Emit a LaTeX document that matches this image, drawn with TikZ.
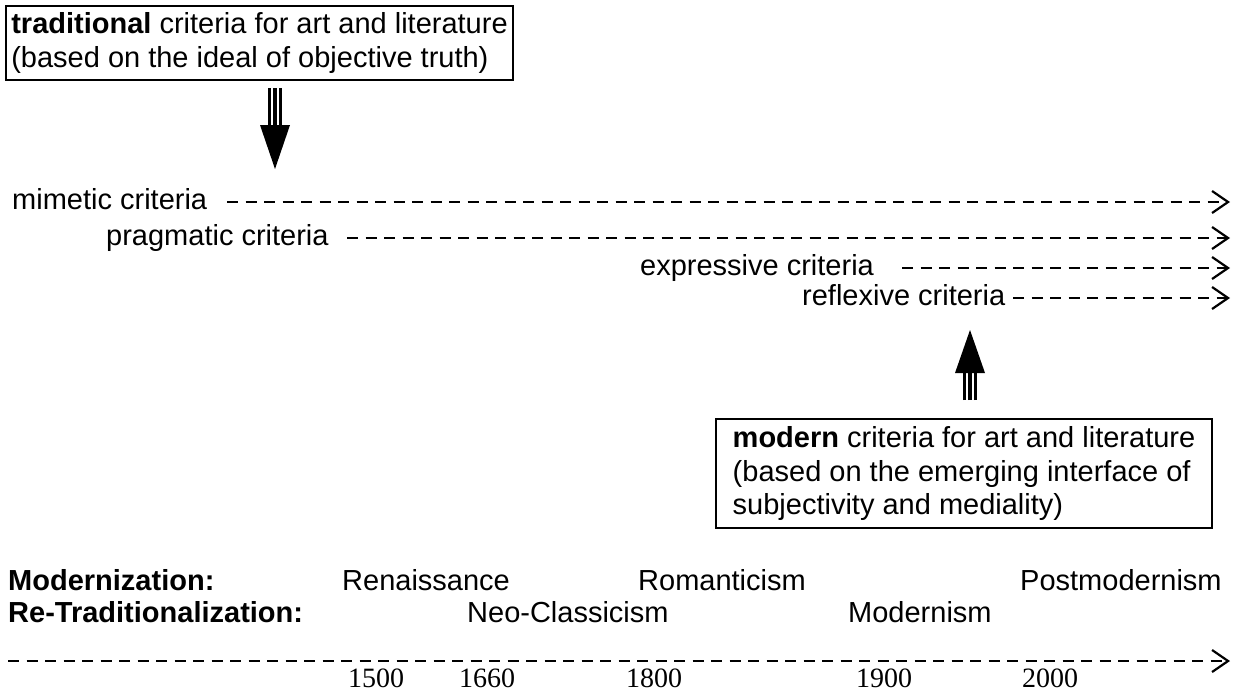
\documentclass[tikz,border=0pt]{standalone}
\usepackage{fontspec}
\setmainfont{Liberation Sans}
\newfontfamily\yearfont{Liberation Serif}
\usetikzlibrary{arrows.meta}
\begin{document}
\begin{tikzpicture}[x=1pt,y=-1pt,
  lbl/.style={anchor=base west, inner sep=0pt, font=\fontsize{29}{33.4}\selectfont},
  yr/.style={anchor=base west, inner sep=0pt, font=\yearfont\fontsize{28}{32}\selectfont},
  critbox/.style={draw, line width=2pt, anchor=north west, align=left, inner sep=0pt, font=\fontsize{29}{33.4}\selectfont},
  dl/.style={line width=2.2pt, dash pattern=on 11pt off 7.5pt, -{Straight Barb[length=16pt,width=22pt]}},
  shaftline/.style={line width=3.5pt},
]
\useasboundingbox (0,0) rectangle (1236,694);
% boxes
\node[critbox, minimum width=507pt, minimum height=74pt] (trad) at (5,5)
  {\textbf{traditional} criteria for art and literature\\(based on the ideal of objective truth)};
\node[critbox, minimum width=496pt, minimum height=109pt] (modern) at (715,418)
  {\textbf{modern} criteria for art and literature\\(based on the emerging interface of\\subjectivity and mediality)};
% criteria labels
\node[lbl] (mim) at (12,209) {mimetic criteria};
\node[lbl] (prag) at (106,245) {pragmatic criteria};
\node[lbl] (expr) at (640,275) {expressive criteria};
\node[lbl] (refl) at (802,305) {reflexive criteria};
\coordinate (mimS) at (227,202);  \coordinate (mimE) at (1230,202);
\coordinate (pragS) at (347,238); \coordinate (pragE) at (1230,238);
\coordinate (exprS) at (902,268); \coordinate (exprE) at (1230,268);
\coordinate (reflS) at (1013,298); \coordinate (reflE) at (1230,298);
\draw[dl] (mimS) -- (mimE);
\draw[dl] (pragS) -- (pragE);
\draw[dl] (exprS) -- (exprE);
\draw[dl] (reflS) -- (reflE);
% down arrow
\coordinate (dtop) at (275,88);
\coordinate (dbase) at (275,125);
\coordinate (dtip) at (275,169);
\foreach \dx in {-5.5,0,5.5}
  \draw[shaftline] ([xshift=\dx pt]dtop) -- ([xshift=\dx pt]dbase);
\fill (dtip) -- ([xshift=-15pt]dbase) -- ([xshift=15pt]dbase) -- cycle;
% up arrow
\coordinate (ubot) at (970,400);
\coordinate (ubase) at (970,373);
\coordinate (utip) at (970,330);
\foreach \dx in {-5.5,0,5.5}
  \draw[shaftline] ([xshift=\dx pt]ubot) -- ([xshift=\dx pt]ubase);
\fill (utip) -- ([xshift=-15pt]ubase) -- ([xshift=15pt]ubase) -- cycle;
% periods
\node[lbl] (modz) at (8,590) {\textbf{Modernization:}};
\node[lbl] (retr) at (8,622) {\textbf{Re-Traditionalization:}};
\node[lbl] (ren) at (342,590) {Renaissance};
\node[lbl] (rom) at (638,590) {Romanticism};
\node[lbl] (pomo) at (1020,590) {Postmodernism};
\node[lbl] (neo) at (467,622) {Neo-Classicism};
\node[lbl] (mdn) at (848,622) {Modernism};
% timeline
\coordinate (tS) at (8,661); \coordinate (tE) at (1230,661);
\draw[dl] (tS) -- (tE);
\node[yr] (y1500) at (348,687) {1500};
\node[yr] (y1660) at (459,687) {1660};
\node[yr] (y1800) at (626,687) {1800};
\node[yr] (y1900) at (856,687) {1900};
\node[yr] (y2000) at (1022,687) {2000};
\end{tikzpicture}
\end{document}
